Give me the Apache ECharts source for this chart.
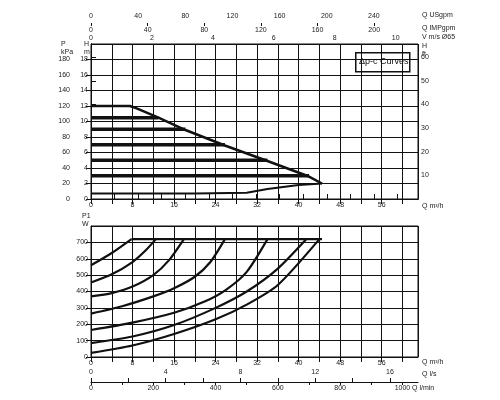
<!DOCTYPE html>
<html><head><meta charset="utf-8">
<script src="https://cdn.jsdelivr.net/npm/echarts@6/dist/echarts.min.js"></script>
<style>html,body{margin:0;background:#fff}#c{width:500px;height:400px}</style>
</head><body><div id="c"></div>
<script>
// Head curves (Q m3/h, H m)
const maxCurve = [[0,12],[7.5,12],[8.8,11.7],[13,10.5],[18.2,8.9],[25.8,6.9],[34,4.9],[42,2.9],[44.5,2.0]];
const minCurve = [[44.5,2.0],[40,1.8],[34,1.3],[30,0.8],[20,0.7],[0,0.7]];
const levels = [10.5, 9, 7, 5, 3];
const levelEnds = [13, 18.2, 25.8, 34, 42];
// Power curves (Q m3/h, P1 W)
const power1 = [[0,560],[4,635],[7.8,720]];
const power2 = [[0,455],[4,505],[8,580],[10.5,650],[12.5,720]];
const power3 = [[0,370],[4,390],[8,430],[12,500],[15,590],[17.9,720]];
const power4 = [[0,265],[6,310],[12,370],[16,420],[20,490],[23,580],[25.8,720]];
const power5 = [[0,165],[8,210],[16,270],[22,340],[26,410],[30,520],[34,720]];
const power6 = [[0,85],[8,125],[16,195],[24,300],[30,400],[36,540],[41.5,720]];
const power7 = [[0,25],[8,70],[16,140],[24,230],[30,320],[36,440],[44,720]];
const powerMax = [[7.8,720],[44.5,720]];

const QMAX = 63;
const black = '#111';
const fs = 7;
function lineS(data, xi, yi, w, smooth) {
  return {type:'line', data, xAxisIndex:xi, yAxisIndex:yi, symbol:'none', smooth: smooth||false,
    lineStyle:{color:black, width:w}, silent:true};
}
const series = [
  lineS(maxCurve,0,0,2.5,false),
  lineS(minCurve,0,0,2,false)
];
levels.forEach((l,i)=>series.push(lineS([[0,l],[levelEnds[i],l]],0,0,3.5)));
[power1,power2,power3,power4,power5,power6,power7].forEach(p=>series.push(lineS(p,4,3,2.2,0.25)));
series.push(lineS(powerMax,4,3,2.2));

function ax(o){return Object.assign({axisLine:{show:true,lineStyle:{color:black}},axisTick:{show:true,lineStyle:{color:black}},
  axisLabel:{fontSize:fs,color:'#222',margin:3},splitLine:{show:false}},o);}
const grid = {show:true,borderColor:black,borderWidth:1};
const opt = {
  animation:false,
  grid:[Object.assign({left:91,right:82,top:44,height:155},grid), Object.assign({left:91,right:82,top:226,height:131},grid)],
  xAxis:[
    ax({gridIndex:0,type:'value',min:0,max:QMAX,interval:4,axisLabel:{fontSize:fs,color:'#222',margin:3,showMaxLabel:false,formatter:v=>v%8===0&&v<=56?v:''},
        splitLine:{show:true,lineStyle:{color:black,width:1}}}),
    ax({gridIndex:0,type:'value',position:'top',min:0,max:QMAX/5.87,interval:1,axisLabel:{fontSize:fs,color:'#222',margin:2,showMaxLabel:false,formatter:v=>v%2===0?v:''},axisTick:{show:false}}),
    ax({gridIndex:0,type:'value',position:'top',offset:21,min:0,max:QMAX/0.2271,interval:20,axisLabel:{fontSize:fs,color:'#222',margin:3,showMaxLabel:false,formatter:v=>v%40===0&&v<=240?v:''}}),
    ax({gridIndex:0,type:'value',position:'top',offset:21,min:0,max:QMAX/0.2728,interval:40,axisLine:{show:false},axisTick:{show:true,inside:true,length:3,lineStyle:{color:black}},axisLabel:{fontSize:fs,color:'#222',inside:true,margin:4,showMaxLabel:false,formatter:v=>v<=200?v:''}}),
    ax({gridIndex:1,type:'value',min:0,max:QMAX,interval:4,axisLabel:{fontSize:fs,color:'#222',margin:3,showMaxLabel:false,formatter:v=>v%8===0&&v<=56?v:''},
        splitLine:{show:true,lineStyle:{color:black,width:1}}}),
    ax({gridIndex:1,type:'value',position:'bottom',offset:25,min:0,max:QMAX/3.6,interval:2,axisTick:{show:true,inside:true,length:4,lineStyle:{color:black}},axisLabel:{fontSize:fs,color:'#222',inside:true,margin:6,showMaxLabel:false,formatter:v=>v%4===0&&v<=16?v:''}}),
    ax({gridIndex:1,type:'value',position:'bottom',offset:25,min:0,max:QMAX*1000/60,interval:100,axisLine:{show:false},axisTick:{show:true,length:3,lineStyle:{color:black}},axisLabel:{fontSize:fs,color:'#222',margin:3,showMaxLabel:false,formatter:v=>v%200===0&&v<=1000?v:''}})
  ],
  yAxis:[
    ax({gridIndex:0,type:'value',min:0,max:20,interval:2,axisLabel:{fontSize:fs,color:'#222',margin:3,showMaxLabel:false},splitLine:{show:true,lineStyle:{color:black,width:1}}}),
    ax({gridIndex:0,type:'value',position:'left',offset:18,min:0,max:200,interval:20,axisLabel:{fontSize:fs,color:'#222',margin:3,showMaxLabel:false}}),
    ax({gridIndex:0,type:'value',position:'right',min:0,max:20*3.2808,interval:10,axisLabel:{fontSize:fs,color:'#222',margin:3,showMaxLabel:false,showMinLabel:false}}),
    ax({gridIndex:1,type:'value',min:0,max:800,interval:100,axisLabel:{fontSize:fs,color:'#222',margin:3,showMaxLabel:false},splitLine:{show:true,lineStyle:{color:black,width:1}}})
  ],
  graphic:[
    {type:'text',left:61,top:40,style:{text:'P\nkPa',fontSize:fs,fill:'#222',lineHeight:8}},
    {type:'text',left:84,top:40,style:{text:'H\nm',fontSize:fs,fill:'#222',lineHeight:8}},
    {type:'text',left:422,top:42,style:{text:'H\nft',fontSize:fs,fill:'#222',lineHeight:8}},
    {type:'text',left:82,top:212,style:{text:'P1\nW',fontSize:fs,fill:'#222',lineHeight:8}},
    {type:'text',left:422,top:203,style:{text:'Q m³/h',fontSize:fs,fill:'#222'}},
    {type:'text',left:422,top:12,style:{text:'Q USgpm',fontSize:fs,fill:'#222'}},
    {type:'text',left:422,top:25,style:{text:'Q IMPgpm',fontSize:fs,fill:'#222'}},
    {type:'text',left:422,top:34,style:{text:'V m/s Ø65',fontSize:fs,fill:'#222'}},
    {type:'text',left:422,top:359,style:{text:'Q m³/h',fontSize:fs,fill:'#222'}},
    {type:'text',left:422,top:371,style:{text:'Q l/s',fontSize:fs,fill:'#222'}},
    {type:'text',left:412,top:385,style:{text:'Q l/min',fontSize:fs,fill:'#222'}},
    {type:'rect',left:355,top:52,shape:{width:54,height:19},style:{fill:'#fff',stroke:black,lineWidth:1.5}},
    {type:'text',left:359,top:57,style:{text:'Δp-c Curves',fontSize:9,fill:'#111'}}
  ],
  series
};
echarts.init(document.getElementById('c')).setOption(opt);
</script></body></html>
